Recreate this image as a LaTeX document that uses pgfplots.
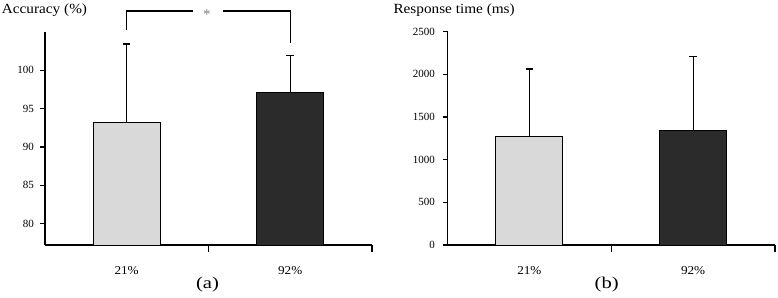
\documentclass[border=0pt]{standalone}
\usepackage{fontspec}
\setmainfont{Liberation Serif}
\usepackage{graphicx}
\usepackage{pgfplots}
\pgfplotsset{compat=1.18}

\definecolor{lightbar}{HTML}{D9D9D9}
\definecolor{darkbar}{HTML}{2B2B2B}
\newcommand{\sx}[2][1.1]{\scalebox{#1}[1]{#2}}

\pgfplotsset{mystyle/.style={
  scale only axis, width=327pt, height=213pt,
  axis x line*=bottom, axis y line*=left,
  axis line style={line width=1.5pt, -},
  xmin=-0.5, xmax=1.5,
  xtick={0,1}, xticklabels={\sx{21\%},\sx{92\%}},
  minor xtick={0.5,1.5},
  tick align=outside, major tick length=5pt, minor tick length=7pt,
  tick style={black, line width=1.4pt},
  major x tick style={draw=none},
  /pgf/number format/set thousands separator={},
  /pgf/number format/assume math mode=true,
  yticklabel style={font=\fontsize{11}{13}\selectfont, xshift=-2.5pt},
  xticklabel style={font=\fontsize{12}{14}\selectfont, yshift=-13pt},
  anchor=south west,
}}

\begin{document}
\begin{tikzpicture}[x=1pt,y=1pt]
\useasboundingbox (0,0) rectangle (778,297);

\begin{axis}[mystyle, at={(44.8pt,52pt)}, width=327.2pt,
  ymin=77.2, ymax=105, ytick={80,85,90,95,100}]
\addplot[ybar, bar shift=0pt, bar width=0.41, fill=lightbar, draw=black, line width=1pt,
  error bars/.cd, y dir=plus, y explicit,
  error bar style={line width=1.2pt, black},
  error mark options={rotate=90, mark size=3.8pt, line width=1.2pt, black}]
  coordinates {(0,93.18) +- (0,10.25)};
\addplot[ybar, bar shift=0pt, bar width=0.41, fill=darkbar, draw=black, line width=1pt,
  error bars/.cd, y dir=plus, y explicit,
  error bar style={line width=1.2pt, black},
  error mark options={rotate=90, mark size=3.8pt, line width=1.2pt, black}]
  coordinates {(1,97.13) +- (0,4.78)};
\coordinate (b1) at (axis cs:0,105.2);
\coordinate (g1) at (axis cs:0.404,107.73);
\coordinate (g2) at (axis cs:0.588,107.73);
\coordinate (b2) at (axis cs:1,103.5);
\coordinate (st) at (axis cs:0.49,107.73);
\end{axis}
\draw[line width=1.2pt] (b1) |- (g1);
\draw[line width=1.2pt] (g2) -| (b2);
\node[gray, font=\fontsize{15}{15}\selectfont, yshift=-3.5pt] at (st) {*};

\begin{axis}[mystyle, at={(447.5pt,52pt)}, width=327.5pt, height=213.3pt,
  ymin=0, ymax=2500, ytick={0,500,1000,1500,2000,2500},
  yticklabel style={xshift=-1.5pt}]
\addplot[ybar, bar shift=0pt, bar width=0.41, fill=lightbar, draw=black, line width=1pt,
  error bars/.cd, y dir=plus, y explicit,
  error bar style={line width=1.2pt, black},
  error mark options={rotate=90, mark size=3.8pt, line width=1.2pt, black}]
  coordinates {(0,1277) +- (0,786)};
\addplot[ybar, bar shift=0pt, bar width=0.41, fill=darkbar, draw=black, line width=1pt,
  error bars/.cd, y dir=plus, y explicit,
  error bar style={line width=1.2pt, black},
  error mark options={rotate=90, mark size=3.8pt, line width=1.2pt, black}]
  coordinates {(1,1340) +- (0,867)};
\end{axis}

\node[anchor=west, inner sep=0pt, font=\fontsize{14}{16}\selectfont] at (1.7,287.3) {\sx[1.09]{Accuracy (\%)}};
\node[anchor=west, inner sep=0pt, font=\fontsize{14}{16}\selectfont] at (393.3,287.3) {\sx[1.09]{Response time (ms)}};
\node[inner sep=0pt, font=\fontsize{16.5}{19}\selectfont] at (207.5,12) {\sx[1.25]{(a)}};
\node[inner sep=0pt, font=\fontsize{16.5}{19}\selectfont] at (606.7,12) {\sx[1.25]{(b)}};
\end{tikzpicture}
\end{document}
